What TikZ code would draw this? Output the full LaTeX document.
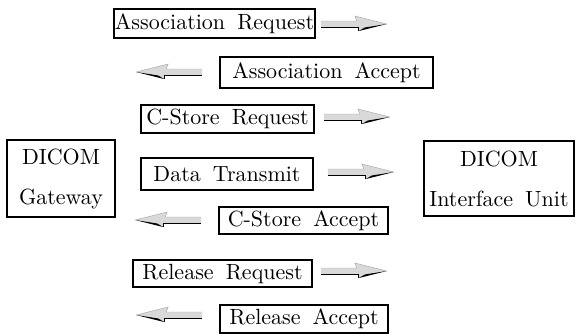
\documentclass[tikz,border=0pt]{standalone}
\usepackage{fontspec}
\usetikzlibrary{calc}
\newfontfamily\msgfamily{lmroman10-regular.otf}
\newcommand\msgfont{\msgfamily\fontsize{22}{26}\selectfont\spaceskip=0.55em plus 0.1em\relax}
\begin{document}
\begin{tikzpicture}[x=1pt,y=-1pt,
  msg/.style={draw, line width=1.6pt, inner sep=0pt, anchor=center, font=\msgfont},
  unit/.style={msg, align=center},
  flow/.pic={%
    % shaded block arrow, tail at the origin, pointing towards +x
    \fill[gray!30] (0,-3) -- (36,-3) -- (34,-8) -- (66,0) -- (38,7) -- (38,3) -- (0,3) -- cycle;
    \draw[gray!70, line width=0.4pt] (0,-3) -- (36,-3) -- (34,-8) -- (66,0);
    \fill[black] (38,7) -- (66,0) -- (44,3.5) -- cycle;
    \draw[black, line width=1pt] (0,3) -- (38,3) -- (38,7);
  }]
\useasboundingbox (0,0) rectangle (576,335);

% end points of the exchange
\node[unit, minimum width=108pt, minimum height=77pt] (gw) at (61,178.5)
  {DICOM\\[14pt]Gateway};
\node[unit, minimum width=150pt, minimum height=75pt] (iu) at (499,178.5)
  {DICOM\\[14pt]Interface Unit};

% messages
\node[msg, minimum width=201pt, minimum height=29pt] (areq) at (214.5,23.5) {Association Request};
\node[msg, minimum width=213pt, minimum height=31pt] (aacc) at (326.5,72.5) {Association Accept};
\node[msg, minimum width=173pt, minimum height=28pt] (creq) at (227.5,119) {C-Store Request};
\node[msg, minimum width=172pt, minimum height=32pt] (data) at (227,174) {Data Transmit};
\node[msg, minimum width=169pt, minimum height=27pt] (cacc) at (303.5,220.5) {C-Store Accept};
\node[msg, minimum width=179pt, minimum height=27pt] (rreq) at (222.5,273.5) {Release Request};
\node[msg, minimum width=168pt, minimum height=28pt] (racc) at (304,319) {Release Accept};

% direction arrows beside each message
\pic at ($(areq.east)+(5,0.5)$) {flow};
\pic at ($(creq.east)+(9,-2)$) {flow};
\pic at ($(data.east)+(14,-2)$) {flow};
\pic at ($(rreq.east)+(8,-2.5)$) {flow};
\pic[xscale=-1] at ($(aacc.west)+(-17,-0.5)$) {flow};
\pic[xscale=-1] at ($(cacc.west)+(-17,-0.5)$) {flow};
\pic[xscale=-1] at ($(racc.west)+(-17,-4)$) {flow};
\end{tikzpicture}
\end{document}
